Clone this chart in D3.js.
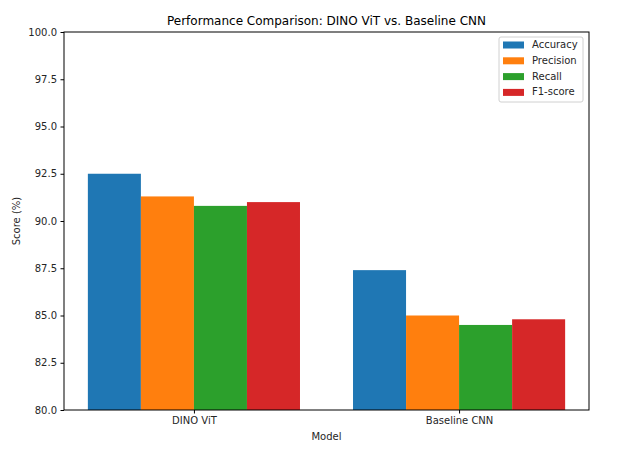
<!DOCTYPE html>
<html>
  <head>
    <meta charset="utf-8">
    <title>Performance Comparison</title>
    <script src="https://cdn.jsdelivr.net/npm/d3@7"></script>
    <style>
      body
      {
        margin: 0px;
        padding: 0px;
        background: white;
        font-family: "DejaVu Sans", sans-serif;
      }

      .tick text
      {
        font-size: 10px;
        fill: #262626;
      }

      .axisLabel
      {
        font-size: 10px;
        fill: #262626;
        text-anchor: middle;
      }
    </style>
  </head>
  <body>
    <svg id="chart"></svg>

    <script>

      //--- Data
      var models = ["DINO ViT", "Baseline CNN"];
      var metrics = ["Accuracy", "Precision", "Recall", "F1-score"];
      var colors = ["#1f77b4", "#ff7f0e", "#2ca02c", "#d62728"];
      var accuracy = [92.5, 87.4];
      var precision = [91.3, 85.0];
      var recall = [90.8, 84.5];
      var f1score = [91.0, 84.8];
      var yTicks = [80.0, 82.5, 85.0, 87.5, 90.0, 92.5, 95.0, 97.5, 100.0];

      var series = [accuracy, precision, recall, f1score];

      var width = 634;
      var height = 455;
      var margin = { left: 64, right: 45, top: 32, bottom: 45 };
      var barWidth = 0.2;

      var svg = d3.select("#chart")
          .attr("width", width)
          .attr("height", height);

      var x = d3.scaleLinear()
          .domain([-0.49, 1.49])
          .range([margin.left, width - margin.right]);

      var y = d3.scaleLinear()
          .domain([80, 100])
          .range([height - margin.bottom, margin.top]);

      //--- Bars
      series.forEach(function (vals, j)
      {
          svg.append("g")
            .selectAll("rect")
            .data(vals)
            .enter()
              .append("rect")
                .attr("x", (d, i) => x(i + (j - 2) * barWidth))
                .attr("width", (d, i) => x(i + (j - 1) * barWidth) - x(i + (j - 2) * barWidth))
                .attr("y", d => y(d))
                .attr("height", d => y(80) - y(d))
                .attr("fill", colors[j]);
      });

      //--- Axes
      var xAxis = d3.axisBottom(x)
          .tickValues(d3.range(models.length))
          .tickFormat(i => models[i])
          .tickSize(3.5)
          .tickPadding(3.5);

      var yAxis = d3.axisLeft(y)
          .tickValues(yTicks)
          .tickFormat(d3.format(".1f"))
          .tickSize(3.5)
          .tickPadding(3.5);

      svg.append("g")
          .attr("transform", "translate(0," + (height - margin.bottom) + ")")
          .call(xAxis)
          .call(g => g.select(".domain").remove());

      svg.append("g")
          .attr("transform", "translate(" + margin.left + ",0)")
          .call(yAxis)
          .call(g => g.select(".domain").remove());

      svg.selectAll(".tick text").attr("font-family", "DejaVu Sans").attr("font-size", 10);

      //--- Frame
      svg.append("rect")
          .attr("x", margin.left)
          .attr("y", margin.top)
          .attr("width", width - margin.left - margin.right)
          .attr("height", height - margin.top - margin.bottom)
          .attr("fill", "none")
          .attr("stroke", "black")
          .attr("stroke-width", 1);

      //--- Labels
      svg.append("text")
          .attr("x", (margin.left + width - margin.right) / 2)
          .attr("y", 25)
          .attr("text-anchor", "middle")
          .attr("font-size", "12px")
          .attr("fill", "black")
          .text("Performance Comparison: DINO ViT vs. Baseline CNN");

      svg.append("text")
          .classed("axisLabel", true)
          .attr("x", (margin.left + width - margin.right) / 2)
          .attr("y", 440)
          .text("Model");

      svg.append("text")
          .classed("axisLabel", true)
          .attr("transform", "translate(20," + ((margin.top + height - margin.bottom) / 2) + ") rotate(-90)")
          .text("Score (%)");

      //--- Legend
      var legend = svg.append("g")
          .attr("transform", "translate(499,37)");

      legend.append("rect")
          .attr("width", 84)
          .attr("height", 65)
          .attr("rx", 2)
          .attr("fill", "white")
          .attr("stroke", "#d0d0d0")
          .attr("stroke-width", 1);

      metrics.forEach(function (m, j)
      {
          legend.append("rect")
              .attr("x", 4)
              .attr("y", 4.5 + j * 15.8)
              .attr("width", 21)
              .attr("height", 7)
              .attr("fill", colors[j]);

          legend.append("text")
              .attr("x", 33)
              .attr("y", 8 + j * 15.8)
              .attr("dominant-baseline", "middle")
              .attr("font-size", "10px")
              .attr("fill", "#262626")
              .text(m);
      });

    </script>
  </body>
</html>
